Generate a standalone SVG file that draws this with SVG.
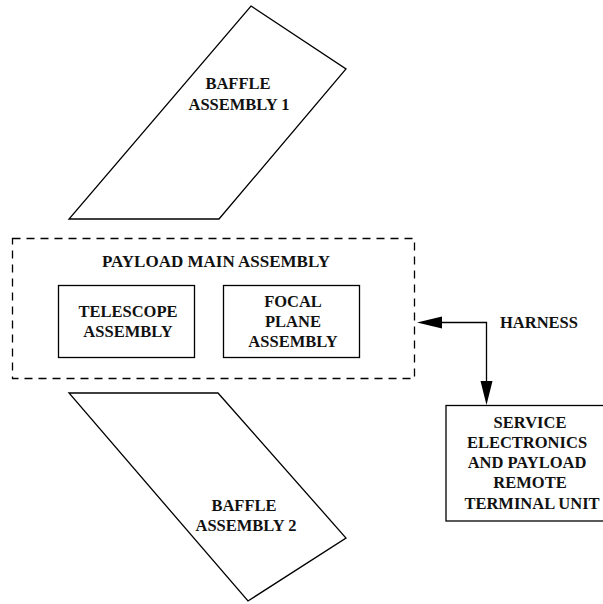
<svg xmlns="http://www.w3.org/2000/svg" width="603" height="604" viewBox="0 0 603 604">
<style>
.s{fill:none;stroke:#000;stroke-width:1.3}
.t{font-family:"Liberation Serif","Times New Roman",serif;font-weight:bold;font-size:16.5px;fill:#111;text-anchor:middle}
</style>
<rect width="603" height="604" fill="#fff"/>
<g id="baffle1">
<polygon class="s" points="251,6 346,69 219,219 69,219"/>
<text class="t" x="238" y="89">BAFFLE</text>
<text class="t" x="239" y="110">ASSEMBLY 1</text>
</g>
<g id="payload">
<rect class="s" x="12.5" y="238.5" width="402" height="140" stroke-dasharray="8 6"/>
<text class="t" x="216" y="267" style="font-size:17px">PAYLOAD MAIN ASSEMBLY</text>
</g>
<g id="telescope">
<rect class="s" x="58.5" y="285.5" width="136" height="72"/>
<text class="t" x="128" y="317">TELESCOPE</text>
<text class="t" x="128" y="337">ASSEMBLY</text>
</g>
<g id="focal">
<rect class="s" x="223.5" y="285.5" width="136" height="72"/>
<text class="t" x="293" y="307">FOCAL</text>
<text class="t" x="293" y="327">PLANE</text>
<text class="t" x="293" y="347">ASSEMBLY</text>
</g>
<g id="baffle2">
<polygon class="s" points="69,393 218,393 346,538 248,601"/>
<text class="t" x="244" y="511">BAFFLE</text>
<text class="t" x="246" y="531">ASSEMBLY 2</text>
</g>
<g id="service">
<rect class="s" x="446" y="405.5" width="160" height="115.5"/>
<text class="t" x="530" y="428">SERVICE</text>
<text class="t" x="527" y="448">ELECTRONICS</text>
<text class="t" x="527" y="468">AND PAYLOAD</text>
<text class="t" x="530" y="488">REMOTE</text>
<text class="t" x="532" y="509">TERMINAL UNIT</text>
</g>
<g id="connectors">
<polyline class="s" points="440,322.5 486.5,322.5 486.5,382"/>
<polygon points="417,322.5 442,316.5 442,328.5" fill="#000"/>
<polygon points="486.5,405 480.5,381 492.5,381" fill="#000"/>
<text class="t" x="539" y="328">HARNESS</text>
</g>
</svg>
